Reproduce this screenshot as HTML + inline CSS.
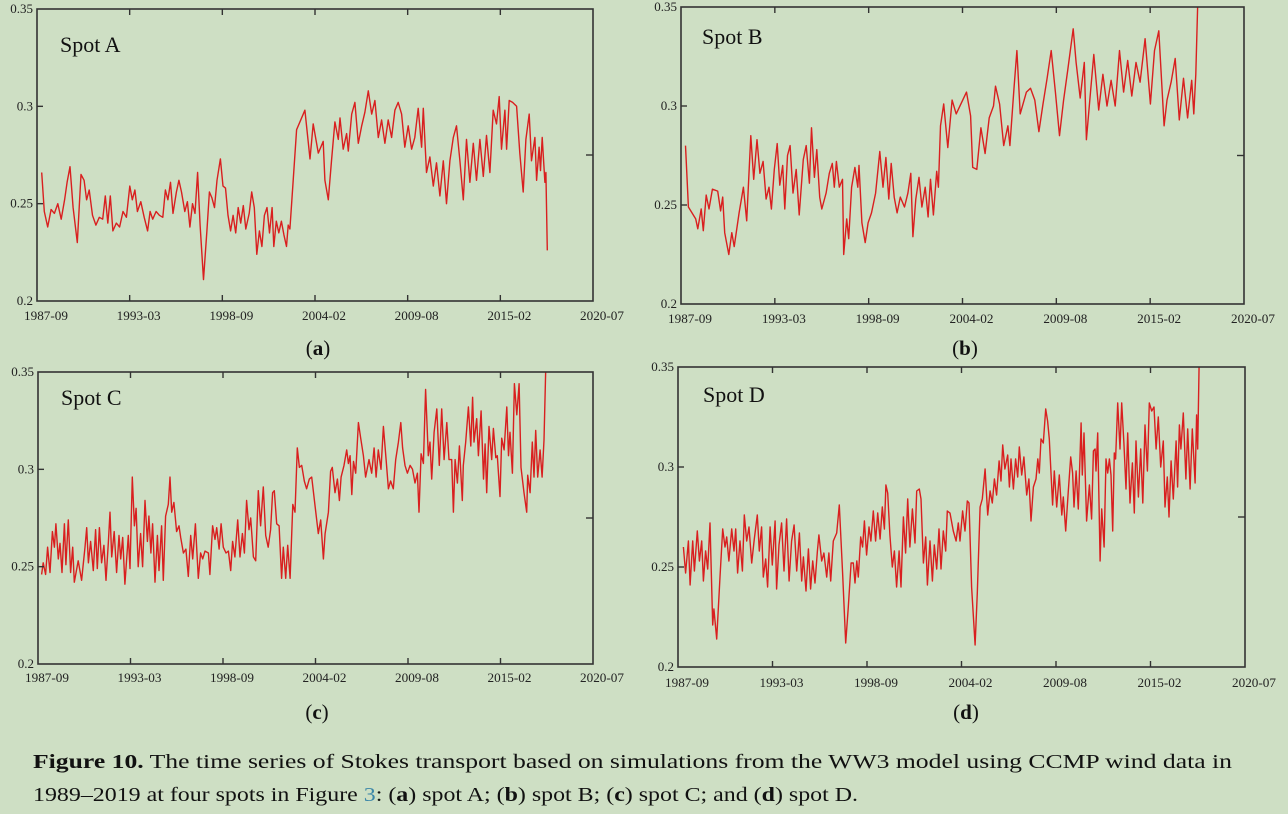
<!DOCTYPE html>
<html><head><meta charset="utf-8"><title>Figure 10 Stokes transport</title>
<style>
html,body{margin:0;padding:0;background:#cedfc4;}
svg{display:block;font-family:"Liberation Serif",serif;}
</style></head>
<body>
<svg id="fig" width="1288" height="814" viewBox="0 0 1288 814" xmlns="http://www.w3.org/2000/svg">
<rect x="0" y="0" width="1288" height="814" fill="#cedfc4"/>
<text x="33" y="768" font-size="19.5" fill="#111" textLength="1199" lengthAdjust="spacingAndGlyphs"><tspan font-weight="bold">Figure 10.</tspan> The time series of Stokes transport based on simulations from the WW3 model using CCMP wind data in</text>
<text x="33" y="801" font-size="19.5" fill="#111" textLength="825" lengthAdjust="spacingAndGlyphs">1989–2019 at four spots in Figure <tspan fill="#3b86a8">3</tspan>: (<tspan font-weight="bold">a</tspan>) spot A; (<tspan font-weight="bold">b</tspan>) spot B; (<tspan font-weight="bold">c</tspan>) spot C; and (<tspan font-weight="bold">d</tspan>) spot D.</text>
</svg>
<script>
// ---- data ----
const xTickLabels = ["1987-09","1993-03","1998-09","2004-02","2009-08","2015-02","2020-07"];
const yTickValues = [0.2, 0.25, 0.3, 0.35];
const yTickLabels = ["0.2","0.25","0.3","0.35"];
const xDomain = [1987.67, 2020.5];
const yDomain = [0.2, 0.35];

const yearsA = [1987.95,1988.1,1988.3,1988.5,1988.7,1988.9,1989.1,1989.3,1989.45,1989.62,1989.8,1990.05,1990.27,1990.45,1990.6,1990.75,1990.95,1991.15,1991.35,1991.55,1991.7,1991.85,1992.0,1992.15,1992.35,1992.55,1992.75,1992.95,1993.15,1993.3,1993.45,1993.6,1993.8,1994.0,1994.2,1994.35,1994.5,1994.7,1994.9,1995.1,1995.25,1995.4,1995.55,1995.7,1995.9,1996.05,1996.2,1996.4,1996.55,1996.7,1996.85,1997.0,1997.15,1997.3,1997.5,1997.7,1997.85,1998.0,1998.15,1998.3,1998.5,1998.65,1998.8,1998.95,1999.1,1999.25,1999.4,1999.55,1999.7,1999.85,2000.0,2000.2,2000.35,2000.5,2000.65,2000.8,2000.95,2001.1,2001.25,2001.4,2001.55,2001.65,2001.8,2001.95,2002.1,2002.25,2002.4,2002.5,2002.6,2002.8,2003.0,2003.49,2003.79,2003.98,2004.28,2004.57,2004.67,2004.87,2005.06,2005.26,2005.46,2005.56,2005.75,2005.95,2006.05,2006.25,2006.44,2006.64,2006.84,2007.03,2007.23,2007.43,2007.62,2007.82,2008.02,2008.21,2008.41,2008.61,2008.8,2009.0,2009.2,2009.39,2009.59,2009.79,2009.98,2010.18,2010.38,2010.48,2010.67,2010.87,2011.07,2011.26,2011.46,2011.66,2011.85,2012.05,2012.25,2012.44,2012.64,2012.84,2013.03,2013.23,2013.43,2013.62,2013.82,2014.02,2014.21,2014.41,2014.61,2014.8,2014.96,2015.1,2015.3,2015.4,2015.55,2015.75,2015.99,2016.18,2016.38,2016.54,2016.73,2016.87,2017.07,2017.17,2017.32,2017.4,2017.5,2017.66,2017.72,2017.8];
const valuesA = [.266,.246,.238,.247,.245,.250,.242,.252,.261,.269,.248,.230,.265,.262,.252,.257,.244,.239,.243,.242,.254,.240,.254,.236,.240,.238,.246,.243,.259,.252,.257,.246,.251,.243,.236,.246,.242,.246,.244,.243,.257,.252,.261,.245,.256,.262,.256,.246,.251,.238,.250,.245,.266,.239,.211,.236,.256,.253,.248,.262,.273,.259,.258,.244,.236,.244,.235,.248,.240,.249,.237,.245,.256,.248,.224,.236,.228,.244,.248,.235,.248,.228,.241,.235,.241,.234,.228,.239,.237,.262,.288,.298,.273,.291,.276,.282,.262,.252,.272,.292,.283,.294,.278,.286,.277,.296,.302,.281,.290,.297,.308,.296,.303,.284,.293,.281,.293,.284,.298,.302,.296,.279,.290,.278,.284,.299,.279,.299,.266,.274,.259,.271,.254,.272,.250,.272,.284,.290,.272,.252,.283,.261,.281,.262,.283,.264,.285,.266,.298,.291,.305,.278,.298,.278,.303,.302,.300,.276,.256,.283,.296,.272,.284,.262,.279,.267,.284,.261,.266,.226];

const yearsB = [1987.93,1988.10,1988.53,1988.65,1988.85,1988.97,1989.14,1989.30,1989.50,1989.81,1989.98,1990.10,1990.22,1990.46,1990.63,1990.77,1991.06,1991.31,1991.50,1991.74,1991.91,1992.10,1992.27,1992.46,1992.63,1992.80,1992.94,1993.11,1993.28,1993.43,1993.60,1993.72,1993.88,1994.03,1994.20,1994.39,1994.56,1994.80,1994.97,1995.16,1995.28,1995.45,1995.59,1995.76,1995.88,1996.13,1996.32,1996.49,1996.61,1996.73,1996.90,1997.09,1997.16,1997.33,1997.45,1997.62,1997.81,1997.98,1998.05,1998.22,1998.41,1998.58,1998.78,1999.02,1999.26,1999.45,1999.62,1999.79,1999.93,2000.10,2000.27,2000.46,2000.70,2000.90,2001.07,2001.19,2001.36,2001.55,2001.72,2001.91,2002.08,2002.22,2002.39,2002.58,2002.68,2002.80,2002.99,2003.23,2003.48,2003.72,2004.32,2004.56,2004.68,2004.92,2005.16,2005.40,2005.64,2005.89,2006.01,2006.25,2006.49,2006.73,2006.85,2007.09,2007.26,2007.45,2007.81,2008.05,2008.30,2008.54,2008.78,2009.02,2009.26,2009.50,2009.74,2009.98,2010.22,2010.54,2010.71,2010.95,2011.19,2011.31,2011.55,2011.74,2012.03,2012.27,2012.51,2012.75,2012.99,2013.24,2013.48,2013.72,2013.96,2014.20,2014.44,2014.73,2015.04,2015.28,2015.53,2015.84,2016.01,2016.25,2016.49,2016.73,2016.97,2017.21,2017.45,2017.57,2017.69,2017.86];
const valuesB = [.280,.249,.243,.238,.248,.237,.255,.248,.258,.257,.247,.254,.236,.225,.236,.229,.246,.259,.242,.285,.263,.283,.266,.272,.253,.259,.248,.268,.281,.260,.270,.248,.275,.280,.256,.268,.245,.273,.280,.261,.289,.264,.278,.254,.248,.256,.266,.271,.259,.272,.259,.263,.225,.243,.233,.259,.269,.259,.270,.241,.231,.241,.246,.256,.277,.259,.274,.253,.271,.254,.246,.254,.249,.256,.266,.234,.253,.264,.249,.259,.244,.263,.245,.267,.259,.290,.301,.279,.303,.296,.307,.295,.269,.268,.289,.276,.294,.300,.310,.301,.280,.290,.280,.309,.328,.296,.307,.309,.303,.287,.301,.314,.328,.307,.285,.303,.318,.339,.322,.304,.322,.283,.307,.326,.298,.316,.300,.313,.300,.328,.307,.323,.305,.322,.312,.334,.301,.328,.338,.290,.303,.312,.324,.293,.314,.294,.313,.296,.316,.370];

const yearsC = [1987.88,1987.98,1988.12,1988.24,1988.38,1988.52,1988.64,1988.73,1988.87,1988.97,1989.09,1989.23,1989.32,1989.46,1989.60,1989.72,1989.82,1990.05,1990.25,1990.45,1990.55,1990.65,1990.78,1990.94,1991.08,1991.18,1991.30,1991.43,1991.57,1991.69,1991.83,1991.93,1992.03,1992.18,1992.32,1992.46,1992.56,1992.68,1992.81,1993.01,1993.11,1993.25,1993.37,1993.47,1993.60,1993.74,1993.86,1994.00,1994.14,1994.23,1994.35,1994.45,1994.59,1994.73,1994.83,1994.98,1995.08,1995.22,1995.38,1995.48,1995.58,1995.71,1995.87,1996.01,1996.11,1996.27,1996.42,1996.56,1996.70,1996.82,1996.98,1997.15,1997.29,1997.41,1997.55,1997.75,1997.84,1998.00,1998.14,1998.24,1998.38,1998.50,1998.63,1998.79,1998.93,1999.07,1999.18,1999.32,1999.48,1999.62,1999.76,1999.88,2000.01,2000.15,2000.25,2000.41,2000.55,2000.70,2000.84,2001.00,2001.14,2001.29,2001.43,2001.55,2001.65,2001.79,2001.93,2002.08,2002.18,2002.32,2002.44,2002.58,2002.74,2002.87,2003.01,2003.13,2003.27,2003.42,2003.56,2003.72,2003.86,2004.06,2004.25,2004.39,2004.55,2004.65,2004.85,2004.98,2005.08,2005.24,2005.38,2005.50,2005.60,2005.77,2005.93,2006.03,2006.13,2006.23,2006.33,2006.46,2006.62,2006.76,2006.92,2007.05,2007.25,2007.41,2007.55,2007.67,2007.80,2007.96,2008.10,2008.26,2008.40,2008.53,2008.69,2008.83,2008.99,2009.13,2009.24,2009.38,2009.52,2009.68,2009.82,2009.97,2010.11,2010.21,2010.33,2010.47,2010.60,2010.76,2010.86,2010.96,2011.10,2011.26,2011.41,2011.55,2011.69,2011.85,2011.98,2012.14,2012.24,2012.34,2012.48,2012.60,2012.77,2012.83,2012.97,2013.13,2013.27,2013.38,2013.46,2013.62,2013.72,2013.88,2014.02,2014.12,2014.21,2014.35,2014.51,2014.61,2014.75,2014.84,2015.00,2015.10,2015.24,2015.40,2015.50,2015.59,2015.73,2015.85,2015.99,2016.13,2016.24,2016.42,2016.58,2016.64,2016.78,2016.91,2017.01,2017.11,2017.23,2017.37,2017.49,2017.60,2017.70,2017.80,2017.86];
const valuesC = [.246,.252,.246,.260,.247,.268,.260,.272,.254,.262,.247,.272,.251,.274,.247,.260,.242,.253,.243,.260,.270,.252,.263,.248,.269,.249,.270,.252,.261,.243,.262,.278,.255,.268,.247,.266,.254,.265,.241,.266,.249,.296,.271,.280,.250,.267,.250,.284,.263,.276,.257,.272,.242,.266,.248,.271,.243,.276,.282,.296,.278,.283,.268,.271,.265,.257,.259,.245,.266,.254,.272,.244,.257,.254,.258,.257,.246,.271,.264,.270,.259,.272,.260,.257,.258,.248,.263,.255,.274,.255,.267,.257,.284,.269,.275,.255,.253,.289,.271,.291,.266,.260,.269,.288,.289,.272,.271,.244,.260,.244,.261,.244,.282,.278,.311,.301,.302,.294,.290,.295,.296,.281,.267,.274,.254,.267,.278,.299,.301,.288,.295,.284,.296,.302,.310,.303,.307,.287,.304,.298,.324,.316,.307,.296,.305,.298,.311,.296,.310,.300,.322,.305,.290,.294,.290,.305,.314,.324,.311,.302,.298,.302,.300,.293,.298,.278,.308,.303,.341,.307,.314,.295,.319,.331,.302,.331,.305,.324,.305,.305,.278,.305,.293,.312,.284,.302,.314,.332,.312,.337,.314,.326,.307,.330,.295,.313,.288,.322,.305,.321,.306,.307,.286,.316,.310,.332,.307,.319,.298,.344,.328,.344,.301,.288,.278,.297,.288,.314,.296,.320,.296,.310,.296,.315,.351,.380];

const yearsD = [1987.98,1988.11,1988.27,1988.37,1988.52,1988.62,1988.79,1988.91,1989.04,1989.14,1989.27,1989.39,1989.52,1989.68,1989.75,1989.91,1990.10,1990.26,1990.39,1990.49,1990.62,1990.78,1990.91,1991.01,1991.12,1991.26,1991.40,1991.51,1991.65,1991.78,1991.94,1992.09,1992.26,1992.38,1992.51,1992.61,1992.75,1992.86,1993.00,1993.13,1993.29,1993.38,1993.52,1993.67,1993.81,1993.96,1994.10,1994.25,1994.39,1994.54,1994.70,1994.83,1994.93,1995.08,1995.22,1995.35,1995.47,1995.60,1995.74,1995.83,1995.99,1996.12,1996.28,1996.41,1996.51,1996.66,1996.86,1997.01,1997.20,1997.38,1997.53,1997.69,1997.82,1997.92,1998.02,1998.11,1998.25,1998.36,1998.46,1998.59,1998.73,1998.84,1998.98,1999.11,1999.23,1999.37,1999.50,1999.62,1999.71,1999.81,1999.94,2000.08,2000.20,2000.33,2000.47,2000.58,2000.72,2000.85,2000.97,2001.10,2001.24,2001.39,2001.49,2001.64,2001.74,2001.88,2002.01,2002.11,2002.26,2002.40,2002.51,2002.65,2002.78,2002.90,2003.03,2003.17,2003.26,2003.42,2003.61,2003.77,2003.90,2004.00,2004.15,2004.29,2004.42,2004.52,2004.67,2004.87,2005.00,2005.16,2005.29,2005.45,2005.60,2005.74,2005.87,2005.99,2006.12,2006.26,2006.37,2006.47,2006.60,2006.76,2006.86,2006.95,2007.09,2007.22,2007.34,2007.43,2007.57,2007.70,2007.86,2007.99,2008.11,2008.25,2008.40,2008.50,2008.59,2008.69,2008.82,2008.96,2009.07,2009.17,2009.27,2009.36,2009.46,2009.60,2009.75,2009.89,2009.98,2010.12,2010.27,2010.41,2010.52,2010.60,2010.72,2010.85,2011.01,2011.08,2011.18,2011.33,2011.49,2011.62,2011.72,2011.82,2011.87,2011.97,2012.11,2012.20,2012.34,2012.45,2012.55,2012.65,2012.74,2012.84,2012.93,2013.01,2013.13,2013.26,2013.36,2013.49,2013.61,2013.71,2013.84,2013.98,2014.09,2014.19,2014.33,2014.46,2014.58,2014.71,2014.85,2014.96,2015.10,2015.23,2015.35,2015.48,2015.62,2015.77,2015.87,2016.00,2016.10,2016.22,2016.35,2016.51,2016.60,2016.70,2016.79,2016.93,2017.08,2017.18,2017.32,2017.45,2017.61,2017.70,2017.76,2017.86];
const valuesD = [.260,.247,.263,.241,.263,.248,.268,.253,.263,.243,.258,.249,.272,.221,.229,.214,.245,.269,.260,.265,.253,.269,.258,.269,.247,.263,.248,.276,.263,.270,.252,.264,.276,.258,.270,.245,.254,.240,.270,.251,.273,.239,.261,.272,.248,.274,.243,.263,.271,.248,.267,.243,.255,.238,.259,.239,.253,.242,.258,.266,.253,.257,.245,.257,.243,.263,.267,.281,.247,.212,.230,.252,.252,.242,.253,.245,.265,.260,.273,.256,.270,.263,.278,.263,.277,.264,.280,.269,.291,.287,.266,.250,.258,.240,.258,.240,.275,.257,.284,.260,.279,.262,.288,.289,.284,.252,.265,.241,.263,.243,.261,.249,.269,.249,.268,.258,.278,.277,.268,.263,.272,.263,.278,.268,.283,.282,.240,.211,.237,.280,.284,.299,.276,.288,.282,.294,.286,.303,.293,.311,.299,.306,.290,.304,.289,.304,.295,.310,.296,.305,.286,.294,.273,.290,.294,.304,.297,.314,.312,.329,.323,.314,.297,.281,.298,.280,.296,.276,.285,.268,.288,.305,.297,.280,.298,.279,.322,.296,.317,.273,.291,.274,.308,.309,.298,.317,.253,.279,.260,.304,.297,.304,.296,.268,.307,.304,.332,.309,.332,.312,.289,.317,.282,.302,.277,.313,.285,.309,.282,.321,.298,.332,.328,.330,.309,.325,.300,.313,.280,.295,.275,.303,.284,.313,.290,.321,.309,.327,.294,.319,.289,.319,.292,.326,.309,.360];

// ---- panels ----
const panels = [
  {id:"a", title:"Spot A", years:yearsA, values:yearsA && valuesA, x0:37, x1:593, y0:9, y1:301, tlx:60, tly:52, lblY:320, capX:318, capY:355},
  {id:"b", title:"Spot B", years:yearsB, values:valuesB, x0:681, x1:1244, y0:7, y1:304, tlx:702, tly:44, lblY:323, capX:965, capY:355},
  {id:"c", title:"Spot C", years:yearsC, values:valuesC, x0:38, x1:593, y0:372, y1:664, tlx:61, tly:405, lblY:682, capX:317, capY:719},
  {id:"d", title:"Spot D", years:yearsD, values:valuesD, x0:678, x1:1245, y0:367, y1:667, tlx:703, tly:402, lblY:687, capX:966, capY:719}
];

const NS = "http://www.w3.org/2000/svg";
const svg = document.getElementById("fig");
function mk(tag, attrs, parent){
  const e = document.createElementNS(NS, tag);
  for (const k in attrs) e.setAttribute(k, attrs[k]);
  (parent||svg).appendChild(e);
  return e;
}

panels.forEach(p => {
  const g = mk("g", {});
  
  
  const xs = v => p.x0 + (v - xDomain[0]) / (xDomain[1] - xDomain[0]) * (p.x1 - p.x0);
  const ys = v => p.y1 - (v - yDomain[0]) / (yDomain[1] - yDomain[0]) * (p.y1 - p.y0);
  const clipId = "clip-" + p.id;
  const cp = mk("clipPath", {id: clipId}, g);
  mk("rect", {x:p.x0, y:p.y0, width:p.x1-p.x0, height:p.y1-p.y0}, cp);

  // series line
  let d = "";
  p.values.forEach((v, i) => { d += (i ? "L" : "M") + xs(p.years[i]).toFixed(1) + "," + ys(v).toFixed(1); });
  const line = mk("path", {d:d, fill:"none", stroke:"#d91f1f", "stroke-width":"1.4", "stroke-linejoin":"round", "clip-path":"url(#"+clipId+")"}, g);
  
  

  // frame
  const frame = mk("rect", {x:p.x0, y:p.y0, width:p.x1-p.x0, height:p.y1-p.y0, fill:"none", stroke:"#333", "stroke-width":"1.6"}, g);
  
  

  // x ticks & labels
  xTickLabels.forEach((lab, i) => {
    const x = p.x0 + i * (p.x1 - p.x0) / (xTickLabels.length - 1);
    if (i > 0 && i < xTickLabels.length - 1) {
      mk("line", {x1:x, x2:x, y1:p.y1, y2:p.y1-6, stroke:"#333", "stroke-width":"1.4"}, g);
      mk("line", {x1:x, x2:x, y1:p.y0, y2:p.y0+6, stroke:"#333", "stroke-width":"1.4"}, g);
    }
    const t = mk("text", {x:x+9, y:p.lblY, "font-size":"13", "text-anchor":"middle", fill:"#222", textLength:"44", lengthAdjust:"spacingAndGlyphs"}, g);
    t.textContent = lab;
    
    
  });
  // y ticks & labels
  yTickValues.forEach((v, i) => {
    const y = ys(v);
    if (i > 0 && i < yTickValues.length - 1) {
      mk("line", {x1:p.x0, x2:p.x0+6, y1:y, y2:y, stroke:"#333", "stroke-width":"1.4"}, g);
    }
    const t = mk("text", {x:p.x0-4, y:y+4, "font-size":"13", "text-anchor":"end", fill:"#222"}, g);
    t.textContent = yTickLabels[i];
    
    
  });
  // right minor tick
  const ry = ys(0.275);
  mk("line", {x1:p.x1, x2:p.x1-7, y1:ry, y2:ry, stroke:"#333", "stroke-width":"1.4"}, g);

  // spot title
  const tt = mk("text", {x:p.tlx, y:p.tly, "font-size":"22", fill:"#111"}, g);
  tt.textContent = p.title;
  
  

  // subfigure caption
  const sc = mk("text", {x:p.capX, y:p.capY, "font-size":"21", "text-anchor":"middle", fill:"#111"}, g);
  sc.innerHTML = '(<tspan font-weight="bold">' + p.id + '</tspan>)';
  
  
});
</script>
</body></html>
